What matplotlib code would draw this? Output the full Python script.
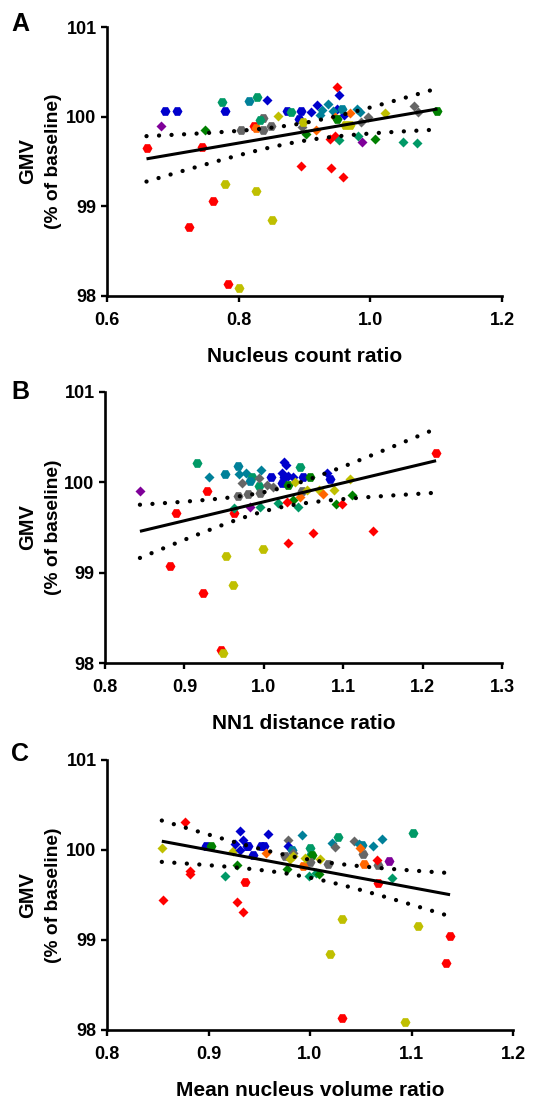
import numpy as np
import matplotlib
matplotlib.use("Agg")
import matplotlib.pyplot as plt

plt.rcParams['font.family'] = ['Liberation Sans', 'DejaVu Sans']

PALETTE = {'R': '#FF0000', 'B': '#0000CC', 'G': '#008000', 'T': '#009966',
           'C': '#008099', 'K': '#666666', 'Y': '#BFBF00', 'O': '#FF6600',
           'P': '#7F0099'}

# ---------------- Panel A: Nucleus count ratio ----------------
a_x = [0.660, 0.745, 0.688, 0.707, 0.682, 0.749, 0.775, 0.779, 0.815, 0.828,
       0.843, 0.804, 0.823, 0.827, 0.837, 0.837, 0.849, 0.832, 0.859, 0.873,
       0.880, 0.894, 0.891, 0.896, 0.898, 0.902, 0.910, 0.919, 0.917, 0.923,
       0.926, 0.935, 0.949, 0.953, 0.949, 0.960, 0.943, 0.957, 0.946, 0.969,
       0.950, 0.961, 0.969, 0.938, 0.946, 0.953, 0.979, 0.984, 0.986, 0.997,
       0.982, 0.987, 1.007, 1.023, 1.049, 1.071, 1.066, 1.073, 1.102, 0.894,
       0.941, 0.959, 0.779, 0.827, 0.850, 0.761, 0.725, 0.784, 0.800]
a_y = [99.65, 99.66, 100.06, 100.06, 99.90, 99.855, 100.16, 100.06, 100.18, 100.22,
       100.19, 99.855, 99.90, 99.87, 99.985, 99.847, 99.90, 99.96, 100.01, 100.06,
       100.05, 100.06, 99.97, 99.89, 99.94, 99.81, 100.05, 100.13, 99.85, 100.02,
       100.07, 100.14, 100.33, 100.24, 100.08, 100.02, 100.06, 100.09, 100.00, 100.04,
       99.97, 99.91, 99.91, 99.75, 99.78, 99.74, 100.09, 100.05, 99.94, 100.00,
       99.78, 99.72, 99.75, 100.04, 99.72, 99.71, 100.12, 100.05, 100.06, 99.45,
       99.43, 99.33, 99.25, 99.17, 98.85, 99.06, 98.77, 98.13, 98.09]
a_c = "RRBBPGTBCTBKROKKKTYBTBBKYGBBOCCCRBBBCCOOGYYRRTCCKKTPGYTTKKGRRRYYYRRRY"
a_m = "hhhhddhhhhdhhhhhhhdhhhhdhddddddddddddhddhhhdddddddddddddddhdddhhhhhhh"

# ---------------- Panel B: NN1 distance ratio ----------------
b_x = [0.844, 0.916, 0.931, 0.951, 0.968, 0.969, 0.977, 0.985, 0.983, 0.994,
       0.972, 0.994, 0.968, 0.980, 0.995, 0.997, 1.004, 1.011, 1.009, 0.928,
       0.890, 0.962, 0.982, 0.995, 0.962, 0.953, 0.999, 0.882, 1.025, 1.028,
       1.023, 1.030, 1.037, 1.025, 1.023, 1.049, 1.079, 1.083, 1.046, 1.058,
       1.031, 1.048, 1.039, 1.054, 1.069, 1.088, 1.109, 1.046, 1.075, 1.037,
       1.091, 1.111, 1.018, 1.043, 1.029, 1.098, 1.062, 1.031, 1.138, 1.217,
       0.923, 0.961, 0.946, 0.949]
b_y = [99.90, 100.21, 100.06, 100.09, 100.18, 100.09, 100.10, 100.055, 100.02, 99.96,
       99.99, 100.05, 99.85, 99.87, 99.885, 100.14, 99.97, 99.945, 100.06, 99.90,
       99.66, 99.66, 99.73, 99.73, 99.72, 99.18, 99.26, 99.07, 100.23, 100.19,
       100.10, 100.07, 100.06, 100.06, 99.99, 100.06, 100.10, 100.04, 100.17, 100.06,
       99.97, 99.90, 100.00, 99.92, 99.91, 99.915, 100.04, 99.84, 99.87, 99.80,
       99.76, 99.86, 99.775, 99.73, 99.78, 99.76, 99.44, 99.33, 99.46, 100.32,
       98.77, 98.86, 98.14, 98.11]
b_c = "PTCCCCCTCTKKKKKCKKBRRRPTTYYRBBBBBBBBBBTGGKYYYYYOOGGGTTRRRRRRRYRY"
b_m = "dhdhhddhhhddhhhdddhhhhdddhhhdddddhhhdhhhhhdddddddddddddddddhhhhh"

# ---------------- Panel C: Mean nucleus volume ratio ----------------
c_x = [0.854, 0.877, 0.882, 0.882, 0.855, 0.928, 0.934, 0.936, 0.898, 0.902,
       0.916, 0.928, 0.924, 0.931, 0.934, 0.926, 0.931, 0.938, 0.939, 0.944,
       0.952, 0.955, 0.959, 0.957, 0.978, 0.978, 0.982, 0.975, 0.983, 0.980,
       0.983, 0.977, 0.992, 1.000, 1.000, 1.002, 1.000, 1.018, 1.052, 1.067,
       0.993, 0.999, 1.006, 1.009, 1.010, 0.995, 1.028, 1.022, 1.025, 1.043,
       1.048, 1.051, 1.049, 1.062, 1.071, 1.053, 1.066, 1.078, 1.081, 1.067,
       1.101, 1.032, 1.106, 1.020, 1.138, 1.134, 1.032, 1.094]
c_y = [100.02, 100.31, 99.77, 99.73, 99.44, 99.42, 99.31, 99.64, 100.04, 100.04,
       99.71, 99.83, 99.99, 100.21, 100.11, 100.07, 100.00, 100.04, 100.04, 99.95,
       100.04, 100.04, 100.18, 99.97, 100.11, 100.04, 100.00, 99.93, 99.97, 99.90,
       99.93, 99.79, 100.17, 100.02, 99.93, 99.95, 99.87, 99.84, 99.96, 99.83,
       99.82, 99.71, 99.75, 99.73, 99.90, 99.91, 100.15, 100.08, 100.03, 100.10,
       100.07, 100.06, 100.02, 100.04, 100.12, 99.84, 99.89, 99.88, 99.69, 99.63,
       100.19, 99.23, 99.16, 98.84, 99.04, 98.75, 98.13, 98.09]
c_c = "YRRRRRRRBGTGYBBBBBBBBBBOKBCKKYYGCTTGKKKKOTTGYYTCKKCCOCCORPTRTYYYRRRY"
c_m = "dddddddhhhdddddddhhhhhddddhhdddddhhhhhhhhdddddhddddhdddhdhdhhhhhhhhh"

T95 = 1.997  # Student t quantile for ~65 dof


def fit_band(x, y):
    x = np.asarray(x); y = np.asarray(y)
    n = len(x)
    slope, intercept = np.polyfit(x, y, 1)
    xs = np.linspace(x.min(), x.max(), 200)
    yh = slope * xs + intercept
    resid = y - (slope * x + intercept)
    s = np.sqrt(np.sum(resid ** 2) / (n - 2))
    sxx = np.sum((x - x.mean()) ** 2)
    se = s * np.sqrt(1.0 / n + (xs - x.mean()) ** 2 / sxx)
    return xs, yh, yh - T95 * se, yh + T95 * se


W, H = 533, 1101
fig = plt.figure(figsize=(W / 100, H / 100), dpi=100)

panels = [
    ("A", a_x, a_y, a_c, a_m, (0.6, 1.2), [0.6, 0.8, 1.0, 1.2], "Nucleus count ratio",
     (107, 502, 27, 296), 24),
    ("B", b_x, b_y, b_c, b_m, (0.8, 1.3), [0.8, 0.9, 1.0, 1.1, 1.2, 1.3], "NN1 distance ratio",
     (105, 502, 392, 663), 392),
    ("C", c_x, c_y, c_c, c_m, (0.8, 1.2), [0.8, 0.9, 1.0, 1.1, 1.2], "Mean nucleus volume ratio",
     (107, 513, 760, 1030), 754),
]

for letter, xs_, ys_, cs_, ms_, xlim, xticks, xlabel, (l, r, t, b), ly in panels:
    ax = fig.add_axes([l / W, 1 - b / H, (r - l) / W, (b - t) / H])
    for xv, yv, cc, mm in zip(xs_, ys_, cs_, ms_):
        if mm == 'h':
            ax.plot(xv, yv, marker='H', ms=7.2, color=PALETTE[cc], mec='none',
                    linestyle='none', clip_on=False, zorder=2)
        else:
            ax.plot(xv, yv, marker='D', ms=5.0, color=PALETTE[cc], mec='none',
                    linestyle='none', clip_on=False, zorder=2)
    fx, fy, lo, hi = fit_band(xs_, ys_)
    ax.plot(fx, fy, color='black', lw=2.2, zorder=3, solid_capstyle='butt')
    for band in (lo, hi):
        ax.plot(fx, band, color='black', lw=3.1, linestyle=(0, (0.01, 2.9)),
                dash_capstyle='round', zorder=3)
    ax.set_xlim(*xlim)
    ax.set_ylim(98, 101)
    ax.set_xticks(xticks)
    ax.set_xticklabels([f"{v:.1f}" for v in xticks])
    ax.set_yticks([98, 99, 100, 101])
    ax.set_yticklabels(["98", "99", "100", "101"])
    for side in ('top', 'right'):
        ax.spines[side].set_visible(False)
    for side in ('left', 'bottom'):
        ax.spines[side].set_linewidth(1.9)
    ax.tick_params(axis='both', direction='out', length=4.5, width=1.7,
                   labelsize=13)
    ax.tick_params(axis='x', pad=7)
    ax.tick_params(axis='y', pad=3)
    for lab in ax.get_xticklabels() + ax.get_yticklabels():
        lab.set_fontweight('bold')
    ax.set_xlabel(xlabel, fontsize=15, fontweight='bold', labelpad=13)
    yc = 1 - ((t + b) / 2) / H
    fig.text(28 / W, yc, "GMV", rotation=90, ha='center', va='center',
             fontsize=14.5, fontweight='bold')
    fig.text(53 / W, yc, "(% of baseline)", rotation=90, ha='center', va='center',
             fontsize=13.8, fontweight='bold')
    fig.text(11 / W, 1 - ly / H, letter, ha='left', va='center',
             fontsize=18, fontweight='bold')

fig.savefig("out.png", dpi=100)
